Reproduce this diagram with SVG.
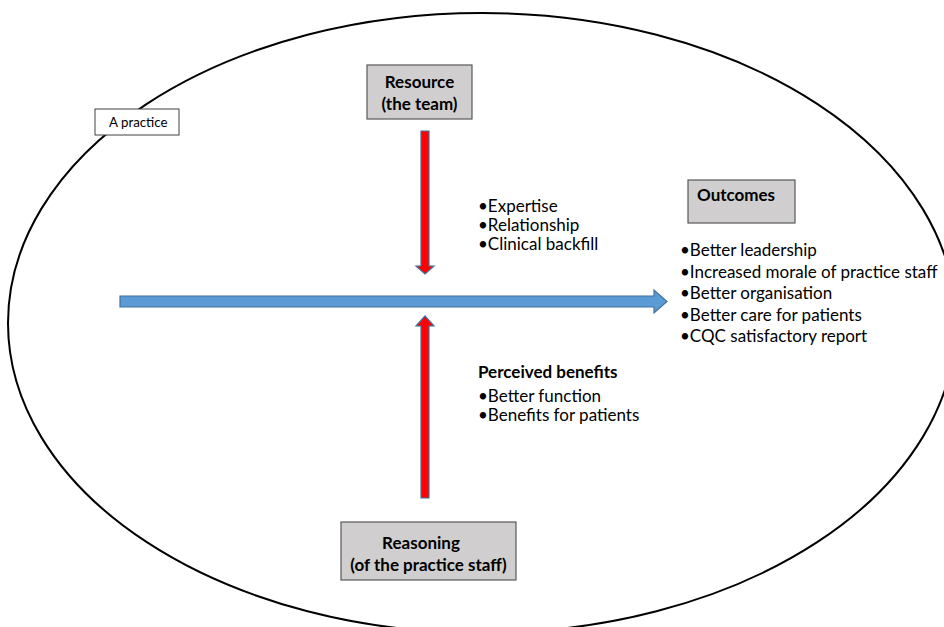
<svg xmlns="http://www.w3.org/2000/svg" width="944" height="627" viewBox="0 0 944 627">
<style>
.box{fill:#d0cece;stroke:#595959;stroke-width:1.2}
.t{font-family:Lato,"Open Sans","Liberation Sans",sans-serif;font-size:17px;fill:#000}
.b{font-weight:bold}
.arr{stroke:#41719c;stroke-width:1.2}
</style>
<rect width="944" height="627" fill="#fff"/>
<ellipse cx="482" cy="323" rx="474" ry="310" fill="none" stroke="#000" stroke-width="2"/>
<g id="connectors">
<path class="arr" fill="#5b9bd5" d="M120,296 H654 V290 L667,301.5 L654,313 V307 H120 Z"/>
<path class="arr" fill="#ff0000" d="M421,131 H429 V266 H434 L425,274 L416,266 H421 Z"/>
<path class="arr" fill="#ff0000" d="M421,498 H429 V326 H434 L425,316 L416,326 H421 Z"/>
</g>
<g id="practice">
<rect x="95" y="109" width="84" height="26" fill="#fff" stroke="#404040" stroke-width="1"/>
<text class="t" x="109" y="127" style="font-size:13.3px">A practice</text>
</g>
<g id="resource">
<rect class="box" x="367" y="65" width="105" height="54"/>
<text class="t b" x="419.5" y="88" text-anchor="middle">Resource</text>
<text class="t b" x="419.5" y="110" text-anchor="middle">(the team)</text>
</g>
<g id="mechanisms">
<text class="t" x="478" y="212">•Expertise</text>
<text class="t" x="478" y="231">•Relationship</text>
<text class="t" x="478" y="250">•Clinical backfill</text>
</g>
<g id="outcomes">
<rect class="box" x="688" y="180" width="107" height="43"/>
<text class="t b" x="697" y="201">Outcomes</text>
</g>
<g id="outcome-list">
<text class="t" x="680" y="256">•Better leadership</text>
<text class="t" x="680" y="278">•Increased morale of practice staff</text>
<text class="t" x="680" y="299">•Better organisation</text>
<text class="t" x="680" y="321">•Better care for patients</text>
<text class="t" x="680" y="342">•CQC satisfactory report</text>
</g>
<g id="benefits">
<text class="t b" x="478" y="378">Perceived benefits</text>
<text class="t" x="478" y="402">•Better function</text>
<text class="t" x="478" y="421">•Benefits for patients</text>
</g>
<g id="reasoning">
<rect class="box" x="341" y="522" width="175" height="58"/>
<text class="t b" x="421" y="549" text-anchor="middle">Reasoning</text>
<text class="t b" x="428.5" y="571" text-anchor="middle">(of the practice staff)</text>
</g>
</svg>
